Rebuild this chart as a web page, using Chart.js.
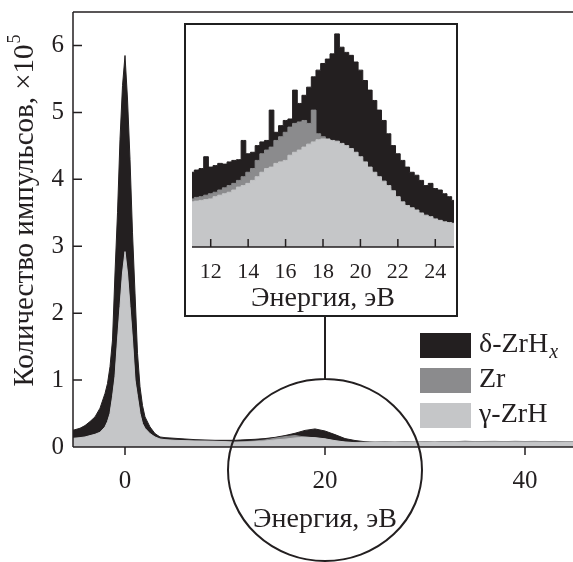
<!DOCTYPE html>
<html>
<head>
<meta charset="utf-8">
<script src="https://cdn.jsdelivr.net/npm/chart.js@4"></script>
<style>
  html, body { margin: 0; padding: 0; background: #fff; }
  #wrap { position: relative; width: 573px; height: 562px; overflow: hidden; }
  #main { position: absolute; left: 0; top: 0; }
  #insetBox { position: absolute; left: 184px; top: 23px; width: 274px; height: 294px;
    box-sizing: border-box; border: 2px solid #1f1f1f; background: #fff; }
  #inset { display: block; }
</style>
</head>
<body>
<div id="wrap">
  <canvas id="main" width="573" height="562"></canvas>
  <div id="insetBox"><canvas id="inset" width="270" height="290"></canvas></div>
</div>
<script>
// main spectrum, counts x10^5
const mainX = [-5.2, -4.5, -4, -3.5, -3, -2.5, -2, -1.75, -1.5, -1.25, -1, -0.75, -0.5, -0.25, 0,
  0.25, 0.5, 0.75, 1, 1.25, 1.5, 1.75, 2, 2.5, 3, 3.5, 4,
  5, 6, 7, 8, 9, 10, 11, 12, 13, 14, 15, 16, 17, 18, 19, 20, 21, 22, 23, 24,
  25, 26, 27, 28, 29, 30, 31, 32, 33, 34, 35, 36, 37, 38, 39, 40, 41, 42, 43, 44, 44.8];
const mainDelta = [0.25, 0.28, 0.32, 0.38, 0.45, 0.58, 0.8, 0.95, 1.2, 1.6, 2.6, 3.5, 4.6, 5.4, 5.85,
  5.2, 4.3, 3.2, 2.3, 1.4, 0.9, 0.62, 0.45, 0.3, 0.2, 0.15, 0.14,
  0.13, 0.12, 0.11, 0.105, 0.1, 0.1, 0.1, 0.108, 0.115, 0.126, 0.144, 0.171, 0.205, 0.248, 0.27, 0.239, 0.185, 0.126, 0.097, 0.079,
  0.07, 0.071, 0.07, 0.072, 0.07, 0.071, 0.07, 0.072, 0.071, 0.073, 0.071, 0.072, 0.07, 0.072, 0.071, 0.07, 0.072, 0.07, 0.071, 0.07, 0.07];
const mainZr = [0.12, 0.13, 0.14, 0.16, 0.18, 0.21, 0.28, 0.36, 0.47, 0.7, 1.0, 1.5, 2.0, 2.5, 2.8,
  2.5, 2.0, 1.5, 0.95, 0.7, 0.47, 0.33, 0.26, 0.19, 0.14, 0.11, 0.095,
  0.09, 0.088, 0.085, 0.086, 0.082, 0.08, 0.075, 0.08, 0.09, 0.105, 0.131, 0.155, 0.171, 0.149, 0.135, 0.117, 0.091, 0.07, 0.068, 0.072,
  0.075, 0.078, 0.074, 0.08, 0.076, 0.079, 0.075, 0.082, 0.078, 0.088, 0.08, 0.083, 0.085, 0.08, 0.086, 0.082, 0.085, 0.08, 0.084, 0.079, 0.078];
const mainGamma = [0.13, 0.14, 0.15, 0.17, 0.19, 0.22, 0.3, 0.38, 0.5, 0.75, 1.05, 1.6, 2.1, 2.6, 2.92,
  2.6, 2.1, 1.6, 1.0, 0.75, 0.5, 0.35, 0.28, 0.2, 0.15, 0.12, 0.11,
  0.1, 0.095, 0.09, 0.088, 0.085, 0.08, 0.07, 0.074, 0.08, 0.09, 0.106, 0.117, 0.135, 0.146, 0.14, 0.122, 0.095, 0.075, 0.064, 0.065,
  0.066, 0.068, 0.067, 0.069, 0.068, 0.069, 0.067, 0.07, 0.069, 0.07, 0.068, 0.069, 0.07, 0.068, 0.07, 0.069, 0.07, 0.068, 0.069, 0.068, 0.068];

// inset: 11..25 eV zoom
const insetX = [11, 11.25, 11.5, 11.75, 12, 12.25, 12.5, 12.75, 13, 13.25, 13.5, 13.75, 14, 14.25, 14.5, 14.75,
  15, 15.25, 15.5, 15.75, 16, 16.25, 16.5, 16.75, 17, 17.25, 17.5, 17.75, 18, 18.25, 18.5, 18.75,
  19, 19.25, 19.5, 19.75, 20, 20.25, 20.5, 20.75, 21, 21.25, 21.5, 21.75, 22, 22.25, 22.5, 22.75,
  23, 23.25, 23.5, 23.75, 24, 24.25, 24.5, 24.75, 25];
const insetDelta = [0.101, 0.104, 0.106, 0.122, 0.108, 0.110, 0.113, 0.112, 0.115, 0.117, 0.118, 0.144, 0.126, 0.128, 0.137, 0.142,
  0.144, 0.185, 0.155, 0.164, 0.171, 0.173, 0.212, 0.194, 0.205, 0.216, 0.230, 0.239, 0.248, 0.254, 0.261, 0.288,
  0.270, 0.263, 0.259, 0.250, 0.239, 0.225, 0.212, 0.198, 0.185, 0.171, 0.153, 0.137, 0.126, 0.117, 0.108, 0.101,
  0.097, 0.090, 0.083, 0.086, 0.079, 0.077, 0.072, 0.068, 0.063];
const insetZr = [0.065, 0.067, 0.068, 0.070, 0.072, 0.074, 0.077, 0.080, 0.083, 0.086, 0.090, 0.095, 0.101, 0.106, 0.117, 0.126,
  0.131, 0.135, 0.144, 0.149, 0.155, 0.162, 0.167, 0.169, 0.171, 0.167, 0.185, 0.153, 0.149, 0.144, 0.139, 0.138,
  0.135, 0.132, 0.128, 0.123, 0.117, 0.110, 0.103, 0.097, 0.091, 0.085, 0.079, 0.072, 0.065, 0.058, 0.053, 0.050,
  0.047, 0.044, 0.041, 0.039, 0.036, 0.034, 0.032, 0.031, 0.030];
const insetGamma = [0.061, 0.062, 0.063, 0.064, 0.065, 0.068, 0.070, 0.072, 0.074, 0.077, 0.081, 0.083, 0.086, 0.090, 0.095, 0.101,
  0.106, 0.108, 0.113, 0.115, 0.117, 0.124, 0.128, 0.131, 0.135, 0.139, 0.142, 0.145, 0.146, 0.146, 0.144, 0.143,
  0.140, 0.137, 0.133, 0.128, 0.122, 0.115, 0.108, 0.101, 0.095, 0.089, 0.083, 0.076, 0.068, 0.061, 0.056, 0.053,
  0.050, 0.046, 0.043, 0.041, 0.038, 0.036, 0.034, 0.033, 0.032];

const xTicksMain = [0, 20, 40];
const yTicksMain = [0, 1, 2, 3, 4, 5, 6];
const xTicksInset = [12, 14, 16, 18, 20, 22, 24];

const SERIF = '"Liberation Serif", "Times New Roman", serif';
const INK = '#231f20';
const C_DELTA = '#231f20', C_ZR = '#8b8b8d', C_GAMMA = '#c5c6c8';

function pts(xs, ys) {
  return xs.map((x, i) => ({ x: x, y: ys[i] }));
}

function series(data, color, order, stepped) {
  return {
    data: data, backgroundColor: color, borderColor: color, borderWidth: 1,
    fill: 'origin', pointRadius: 0, tension: 0, order: order, stepped: stepped || false
  };
}

// frame, ticks, titles, circle, legend
const mainDecor = {
  id: 'mainDecor',
  afterDraw(chart) {
    const { ctx, chartArea: a, scales: { x, y } } = chart;
    ctx.save();
    ctx.strokeStyle = INK;
    ctx.lineWidth = 1.5;
    ctx.beginPath();
    ctx.moveTo(a.left, a.top); ctx.lineTo(a.right, a.top);
    ctx.moveTo(a.left, a.top); ctx.lineTo(a.left, a.bottom);
    ctx.moveTo(a.left, a.bottom); ctx.lineTo(a.right, a.bottom);
    yTicksMain.forEach(v => {
      const py = y.getPixelForValue(v);
      ctx.moveTo(a.left, py); ctx.lineTo(a.left + 9, py);
    });
    xTicksMain.forEach(v => {
      const px = x.getPixelForValue(v);
      ctx.moveTo(px, a.bottom); ctx.lineTo(px, a.bottom + 8);
    });
    ctx.stroke();

    // y tick labels
    ctx.fillStyle = INK;
    ctx.font = '25px ' + SERIF;
    ctx.textAlign = 'right';
    ctx.textBaseline = 'middle';
    yTicksMain.forEach(v => ctx.fillText(String(v), a.left - 9, y.getPixelForValue(v)));

    // circle around the 20 eV hump + line to inset
    const cx = x.getPixelForValue(20);
    ctx.lineWidth = 2;
    ctx.beginPath();
    ctx.ellipse(cx, 470, 97, 91, 0, 0, Math.PI * 2);
    ctx.moveTo(cx, 470 - 91); ctx.lineTo(cx, 310);
    ctx.stroke();

    ctx.textAlign = 'center';
    ctx.font = '28px ' + SERIF;
    ctx.fillText('Энергия, эВ', cx, 520);

    // y title with superscript
    ctx.save();
    ctx.translate(25, 211);
    ctx.rotate(-Math.PI / 2);
    const main = 'Количество импульсов, ×10';
    ctx.font = '29px ' + SERIF;
    const w1 = ctx.measureText(main).width;
    ctx.font = '18px ' + SERIF;
    const w2 = ctx.measureText('5').width;
    const x0 = -(w1 + w2) / 2;
    ctx.textAlign = 'left';
    ctx.font = '29px ' + SERIF;
    ctx.fillText(main, x0, 0);
    ctx.font = '18px ' + SERIF;
    ctx.fillText('5', x0 + w1 + 1, -10);
    ctx.restore();

    // legend
    const items = [
      { c: C_DELTA, t: 'δ-ZrH', sub: 'x', y: 345 },
      { c: C_ZR, t: 'Zr', y: 380 },
      { c: C_GAMMA, t: 'γ-ZrH', y: 415 }
    ];
    ctx.textAlign = 'left';
    items.forEach(it => {
      ctx.fillStyle = it.c;
      ctx.fillRect(420, it.y - 12, 51, 25);
      ctx.fillStyle = INK;
      ctx.font = '28px ' + SERIF;
      ctx.fillText(it.t, 479, it.y);
      if (it.sub) {
        const w = ctx.measureText(it.t).width;
        ctx.font = 'italic 20px ' + SERIF;
        ctx.fillText(it.sub, 479 + w + 1, it.y + 8);
      }
    });
    ctx.restore();
  }
};

new Chart('main', {
  type: 'line',
  data: {
    datasets: [
      series(pts(mainX, mainDelta), C_DELTA, 3),
      series(pts(mainX, mainZr), C_ZR, 2),
      series(pts(mainX, mainGamma), C_GAMMA, 1)
    ]
  },
  options: {
    responsive: false,
    animation: false,
    layout: { padding: { top: 12, right: 0, left: 0, bottom: 0 } },
    plugins: { legend: { display: false }, tooltip: { enabled: false } },
    scales: {
      x: {
        type: 'linear', min: -5.2, max: 44.8,
        afterBuildTicks: s => { s.ticks = xTicksMain.map(v => ({ value: v })); },
        afterFit: s => { s.height = 115; s.paddingLeft = 0; s.paddingRight = 0; },
        grid: { display: false, drawTicks: false }, border: { display: false },
        ticks: { font: { family: SERIF, size: 25 }, color: INK, padding: 19, maxRotation: 0 }
      },
      y: {
        min: 0, max: 6.5,
        afterBuildTicks: s => { s.ticks = yTicksMain.map(v => ({ value: v })); },
        afterFit: s => { s.width = 73; s.paddingTop = 0; s.paddingBottom = 0; },
        grid: { display: false, drawTicks: false }, border: { display: false },
        ticks: { display: false }
      }
    }
  },
  plugins: [mainDecor]
});

const insetDecor = {
  id: 'insetDecor',
  afterDraw(chart) {
    const { ctx, chartArea: a, scales: { x } } = chart;
    ctx.save();
    ctx.strokeStyle = INK;
    ctx.lineWidth = 1.5;
    ctx.beginPath();
    ctx.moveTo(a.left, a.bottom); ctx.lineTo(a.right, a.bottom);
    xTicksInset.forEach(v => {
      const px = x.getPixelForValue(v);
      ctx.moveTo(px, a.bottom); ctx.lineTo(px, a.bottom - 8);
    });
    ctx.stroke();
    ctx.fillStyle = INK;
    ctx.textAlign = 'center';
    ctx.textBaseline = 'middle';
    ctx.font = '28px ' + SERIF;
    ctx.fillText('Энергия, эВ', (a.left + a.right) / 2, 274);
    ctx.restore();
  }
};

new Chart('inset', {
  type: 'line',
  data: {
    datasets: [
      series(pts(insetX, insetDelta), C_DELTA, 3, 'middle'),
      series(pts(insetX, insetZr), C_ZR, 2, 'middle'),
      series(pts(insetX, insetGamma), C_GAMMA, 1, 'middle')
    ]
  },
  options: {
    responsive: false,
    animation: false,
    layout: { padding: { top: 0, right: 2, left: 6, bottom: 0 } },
    plugins: { legend: { display: false }, tooltip: { enabled: false } },
    scales: {
      x: {
        type: 'linear', min: 11, max: 25,
        afterBuildTicks: s => { s.ticks = xTicksInset.map(v => ({ value: v })); },
        afterFit: s => { s.height = 68; s.paddingLeft = 0; s.paddingRight = 0; },
        grid: { display: false, drawTicks: false }, border: { display: false },
        ticks: { font: { family: SERIF, size: 22 }, color: INK, padding: 12, maxRotation: 0 }
      },
      y: { display: false, min: 0, max: 0.3 }
    }
  },
  plugins: [insetDecor]
});
</script>
</body>
</html>
